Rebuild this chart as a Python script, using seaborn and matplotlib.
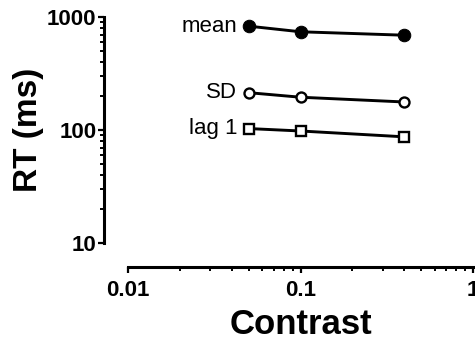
import matplotlib
matplotlib.use("Agg")
import matplotlib.pyplot as plt
import seaborn as sns
import pandas as pd
from matplotlib.ticker import LogLocator, NullFormatter

contrast = [0.05, 0.1, 0.4]
mean_rt = [830, 740, 690]
sd_rt = [214, 195, 177]
lag1_rt = [103, 98, 87]
series_names = ["mean", "SD", "lag 1"]
x_ticks = [0.01, 0.1, 1]
x_tick_labels = ["0.01", "0.1", "1"]
y_ticks = [10, 100, 1000]
y_tick_labels = ["10", "100", "1000"]

sns.set_style("ticks")
plt.rcParams["font.family"] = ["Liberation Sans", "DejaVu Sans"]
plt.rcParams["text.color"] = "black"
plt.rcParams["axes.labelcolor"] = "black"
plt.rcParams["xtick.color"] = "black"
plt.rcParams["ytick.color"] = "black"

dpi = 100
fig = plt.figure(figsize=(4.75, 3.43), dpi=dpi)
W, H = 475, 343
left, right, top, bottom = 128, 473, 17, 243
ax = fig.add_axes([left / W, 1 - bottom / H, (right - left) / W, (bottom - top) / H])

styles = {
    "mean": dict(marker="o", markersize=9, markerfacecolor="black"),
    "SD": dict(marker="o", markersize=7.2, markerfacecolor="white", markeredgewidth=1.7),
    "lag 1": dict(marker="s", markersize=6.8, markerfacecolor="white", markeredgewidth=1.7),
}
values = {"mean": mean_rt, "SD": sd_rt, "lag 1": lag1_rt}

for name in series_names:
    df = pd.DataFrame({"Contrast": contrast, "RT": values[name]})
    sns.lineplot(data=df, x="Contrast", y="RT", ax=ax, color="black",
                 linewidth=2.1, markeredgecolor="black", clip_on=False,
                 **styles[name])
    ax.annotate(name, xy=(contrast[0], values[name][0]), xytext=(-8, 0),
                textcoords="offset points", ha="right", va="center",
                fontsize=16, color="black")

ax.set_xscale("log")
ax.set_yscale("log")
ax.set_xlim(0.01, 1)
ax.set_ylim(10, 1000)
ax.set_xticks(x_ticks)
ax.set_xticklabels(x_tick_labels)
ax.set_yticks(y_ticks)
ax.set_yticklabels(y_tick_labels)
ax.xaxis.set_minor_locator(LogLocator(base=10, subs=range(2, 10)))
ax.yaxis.set_minor_locator(LogLocator(base=10, subs=range(2, 10)))
ax.xaxis.set_minor_formatter(NullFormatter())
ax.yaxis.set_minor_formatter(NullFormatter())

for s in ["top", "right"]:
    ax.spines[s].set_visible(False)
off = 24 * 72 / dpi
ax.spines["left"].set_position(("outward", off))
ax.spines["bottom"].set_position(("outward", off))
for s in ["left", "bottom"]:
    ax.spines[s].set_linewidth(2.2)
    ax.spines[s].set_color("black")

ax.tick_params(which="major", length=4.5, width=1.6, color="black",
               labelsize=16, labelcolor="black")
ax.tick_params(axis="y", which="major", pad=1)
ax.tick_params(axis="x", which="major", pad=5)
ax.tick_params(which="minor", length=2.8, width=1.4, color="black")
for lab in ax.get_xticklabels() + ax.get_yticklabels():
    lab.set_fontweight("bold")

ax.set_xlabel("Contrast", fontsize=25, fontweight="bold", labelpad=5, color="black")
ax.set_ylabel("RT (ms)", fontsize=24, fontweight="bold", labelpad=2, color="black")

fig.savefig("out.png", dpi=dpi, facecolor="white")
